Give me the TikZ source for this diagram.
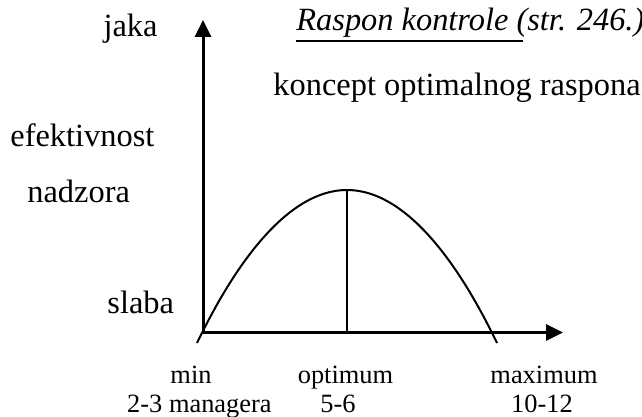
\documentclass[tikz,border=0pt]{standalone}
\usepackage{fontspec}
\setmainfont{LiberationSerif}[Extension=.ttf,UprightFont=*-Regular,ItalicFont=*-Italic,BoldFont=*-Bold,BoldItalicFont=*-BoldItalic]
\usetikzlibrary{arrows.meta}
\begin{document}
\begin{tikzpicture}[x=0.5pt,y=-0.5pt,
  big/.style={inner sep=0pt,font=\fontsize{16.2}{19}\selectfont},
  small/.style={inner sep=0pt,font=\fontsize{13.2}{16}\selectfont},
  axis/.style={line width=1.5pt,-{Triangle[length=8.5pt,width=8pt]}},
  thin/.style={line width=1pt}]
\useasboundingbox (0,0) rectangle (642,417);
% axes
\coordinate (O) at (203,332.5);
\coordinate (ytop) at (203,20);
\coordinate (xend) at (563,332.5);
\draw[axis] (O) -- (ytop);
\draw[axis] (O) -- (xend);
% curve
\coordinate (cstart) at (197,343);
\coordinate (peak) at (347,190);
\coordinate (cend) at (497,343);
\coordinate (pfoot) at (347,332.5);
\draw[thin] (cstart) parabola bend (peak) (cend);
\draw[thin] (peak) -- (pfoot);
% texts
\node[big,anchor=base] (jaka) at (130.5,37) {jaka};
\node[big,anchor=base west] (title) at (296,31) {\itshape Raspon kontrole (str. 246.)};
\coordinate (ulend) at (523,41);
\draw[line width=1pt] (title.base west |- ulend) -- (ulend);
\node[big,anchor=base east] (koncept) at (641,96) {koncept optimalnog raspona};
\node[big,anchor=base west] (efek) at (10,147) {efektivnost};
\node[big,anchor=base west] (nadz) at (27,202) {nadzora};
\node[big,anchor=base west] (slaba) at (107,313) {slaba};
\node[small,anchor=base] (min) at (191,383) {min};
\node[small,anchor=base] (opt) at (345.5,383) {optimum};
\node[small,anchor=base] (max) at (544,383) {maximum};
\node[small,anchor=base east] (mgr) at (272,412) {2-3 managera};
\node[small,anchor=base] (op56) at (338,412) {5-6};
\node[small,anchor=base] (mx) at (542,412) {10-12};
\end{tikzpicture}
\end{document}
